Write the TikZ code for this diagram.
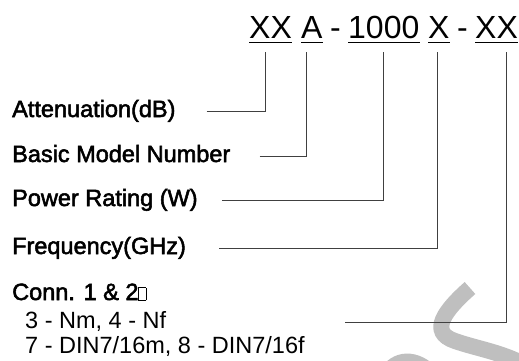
\documentclass[tikz,border=0pt]{standalone}
\usepackage{fontspec}
\usepackage{tikz}
\setmainfont{Liberation Sans}
\newfontfamily\boldish[FakeBold=2.2]{Liberation Sans}
\newcommand\tofubox{{\setlength{\fboxsep}{0pt}\setlength{\fboxrule}{0.7pt}\fbox{\rule{0pt}{12pt}\rule{6.5pt}{0pt}}}}

\begin{document}
\begin{tikzpicture}[x=1pt,y=-1pt]
\tikzset{code/.style = {inner sep=0pt, anchor=base west, text depth=0pt, font=\fontsize{32}{36}\selectfont}}
\tikzset{field/.style = {inner sep=0pt, anchor=base west, text height=17pt, text depth=5pt, font=\boldish\fontsize{23.5}{28}\selectfont}}
\tikzset{choice/.style = {field, font=\fontsize{23.5}{28}\selectfont}}
\tikzset{uline/.style = {line width=1.4pt}}
\tikzset{lead/.style = {draw=black!75, line width=0.9pt}}
\tikzset{stamp/.style = {draw=black!25, line width=16pt}}
\useasboundingbox (0,0) rectangle (519,360);
% watermark
\draw[stamp] (470,288) .. controls (445,310) and (428,332) .. (455,341) .. controls (478,349) and (502,352) .. (527,366);
\draw[stamp] (385,378) .. controls (392,360) and (412,355) .. (430,372);
% model code
\node[code] (xxa) at (249,38) {XX};
\node[code] (ma)  at (301,38) {A};
\node[code] (da)  at (330,38) {-};
\node[code] (pw)  at (348,38) {1000};
\node[code] (fq)  at (428,38) {X};
\node[code] (db)  at (457,38) {-};
\node[code] (cn)  at (475,38) {XX};
\foreach \n in {xxa,ma,pw,fq,cn}
  \draw[uline] ([yshift=-4.5pt]\n.base west) -- ([yshift=-4.5pt]\n.base east);
\coordinate (t1) at (265,52);
\coordinate (t2) at (306,52);
\coordinate (t3) at (383.5,52);
\coordinate (t4) at (437.5,52);
\coordinate (t5) at (506,52);
% fields
\node[field] (att) at (12,117) {Attenuation(dB)};
\node[field] (bmn) at (12,162) {Basic Model Number};
\node[field] (pwr) at (12,206) {Power Rating (W)};
\node[field] (frq) at (12,254) {Frequency(GHz)};
\node[field] (con) at (12,300) {Conn. 1 \& 2\tofubox};
\node[choice] (nm)  at (25,328) {3 - Nm, 4 - Nf};
\node[choice] (din) at (25,353) {7 - DIN7/16m, 8 - DIN7/16f};
% leads
\draw[lead] ([xshift=31pt]att.east) -| (t1);
\draw[lead] ([xshift=29pt]bmn.east) -| (t2);
\draw[lead] ([xshift=24pt]pwr.east) -| (t3);
\draw[lead] ([xshift=33pt]frq.east) -| (t4);
\draw[lead] ([xshift=179pt]nm.east) -| (t5);
\end{tikzpicture}
\end{document}
